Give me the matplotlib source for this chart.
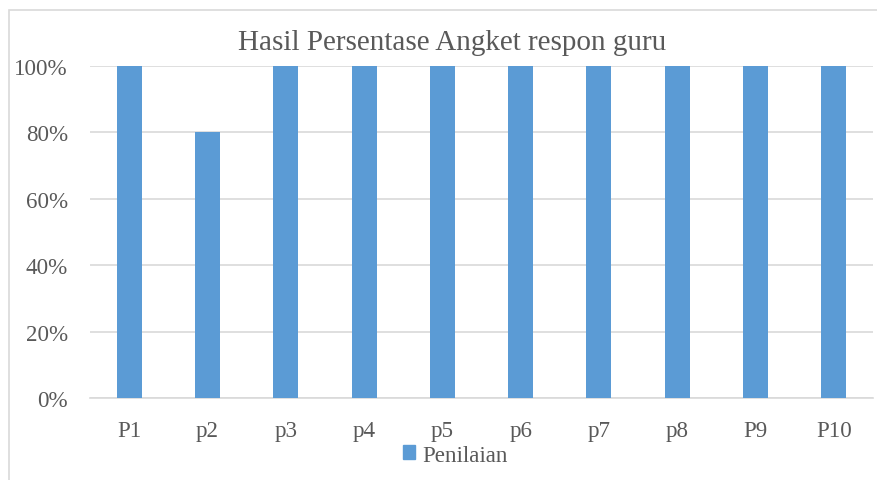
import matplotlib.pyplot as plt
import matplotlib.patches as mpatches
from matplotlib.ticker import PercentFormatter

# data
categories = ['P1', 'p2', 'p3', 'p4', 'p5', 'p6', 'p7', 'p8', 'P9', 'P10']
penilaian = [100, 80, 100, 100, 100, 100, 100, 100, 100, 100]
y_ticks = [0, 20, 40, 60, 80, 100]

bar_color = '#5B9BD5'
text_color = '#595959'
grid_color = '#D9D9D9'

plt.rcParams['font.family'] = ['Liberation Serif', 'DejaVu Serif']

fig = plt.figure(figsize=(8.77, 4.81), dpi=100, facecolor='white')

# chart frame (light gray border, left and top visible)
frame = mpatches.Rectangle((9 / 877, -0.05), 1.0, 1 - 11 / 481 + 0.05,
                           transform=fig.transFigure, fill=False,
                           edgecolor='#D9D9D9', linewidth=1.2)
fig.patches.append(frame)

ax = fig.add_axes([90 / 877, 1 - 399 / 481, (873 - 90) / 877, (399 - 67) / 481])
x = list(range(len(categories)))
ax.bar(x, penilaian, width=0.32, color=bar_color, label='Penilaian', zorder=3)

ax.set_xlim(-0.5, len(categories) - 0.5)
ax.set_ylim(0, 100)
ax.set_yticks(y_ticks)
ax.yaxis.set_major_formatter(PercentFormatter(decimals=0))
ax.set_xticks(x)
ax.set_xticklabels(categories)

ax.grid(axis='y', color=grid_color, linewidth=1.2, zorder=0)
for s in ['top', 'right', 'left']:
    ax.spines[s].set_visible(False)
ax.spines['bottom'].set_color(grid_color)
ax.spines['bottom'].set_linewidth(1.2)
ax.tick_params(axis='both', length=0, labelsize=16.6, colors=text_color)
ax.tick_params(axis='x', pad=16)
ax.tick_params(axis='y', pad=16)

fig.text(452 / 877, 1 - 43 / 481, 'Hasil Persentase Angket respon guru',
         ha='center', va='center', fontsize=21, color=text_color)

leg = fig.legend(handles=[mpatches.Patch(color=bar_color, label='Penilaian')],
                 loc='center', bbox_to_anchor=(455 / 877, 1 - 456 / 481),
                 frameon=False, fontsize=16.6, handlelength=0.55, handleheight=0.55,
                 handletextpad=0.3, borderpad=0)
for t in leg.get_texts():
    t.set_color(text_color)

fig.savefig('out.png', dpi=100, facecolor='white')
